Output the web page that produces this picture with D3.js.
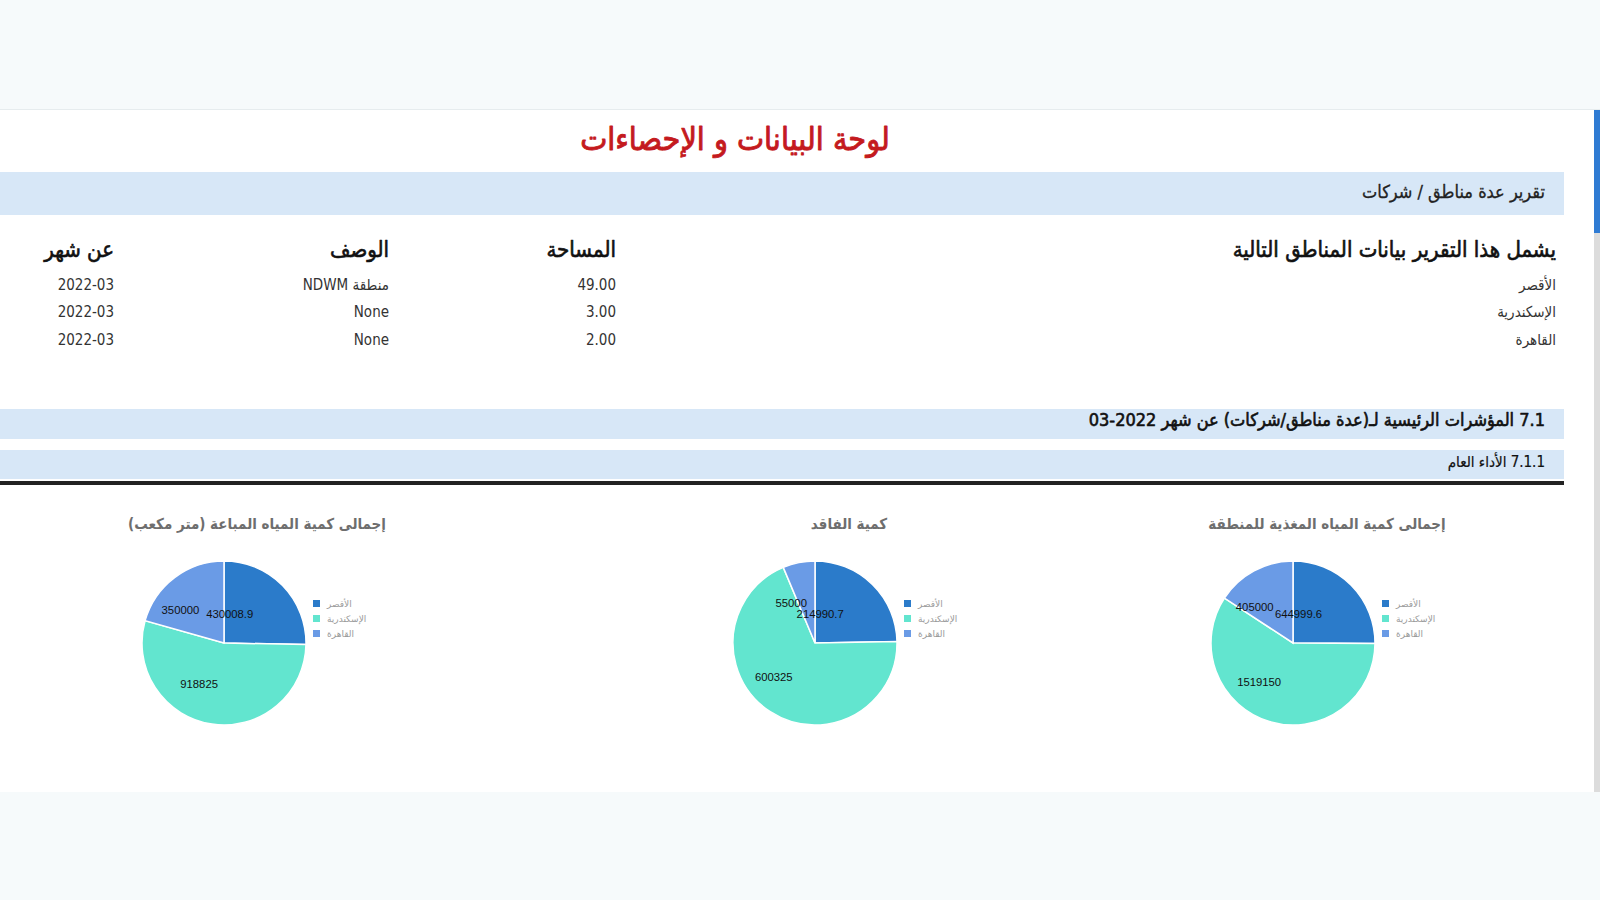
<!DOCTYPE html>
<html>
<head>
<meta charset="utf-8">
<script src="https://cdn.jsdelivr.net/npm/d3@7"></script>
<style>
  html, body { margin: 0; padding: 0; background: #f6fafb; overflow: hidden; }
  svg { display: block; }
</style>
</head>
<body>
<script>
var W = 1600, H = 900;

// table data
var regions = ["الأقصر", "الإسكندرية", "القاهرة"];
var areas = ["49.00", "3.00", "2.00"];
var descriptions = ["منطقة NDWM", "None", "None"];
var months = ["2022-03", "2022-03", "2022-03"];
var tableHeaders = ["يشمل هذا التقرير بيانات المناطق التالية", "المساحة", "الوصف", "عن شهر"];

// pie data (right to left on the page)
var chartTitles = ["إجمالى كمية المياه المغذية للمنطقة", "كمية الفاقد", "إجمالى كمية المياه المباعة (متر مكعب)"];
var fedWater = [644999.6, 1519150, 405000];
var lostWater = [214990.7, 600325, 55000];
var soldWater = [430008.9, 918825, 350000];
var colors = ["#2b7bca", "#62e5cf", "#6a9be6"];

var arabicFont = "'DejaVu Sans Condensed', 'DejaVu Sans', sans-serif";

var svg = d3.select("body").append("svg").attr("width", W).attr("height", H);

//page background + white panel
svg.append("rect").attr("width", W).attr("height", H).attr("fill", "#f6fafb");
svg.append("rect").attr("x", 0).attr("y", 109).attr("width", 1594).attr("height", 683).attr("fill", "#ffffff");
svg.append("line").attr("x1", 0).attr("x2", 1600).attr("y1", 109.5).attr("y2", 109.5).attr("stroke", "#e6ecee");

//scrollbar
svg.append("rect").attr("x", 1594).attr("y", 110).attr("width", 6).attr("height", 682).attr("fill", "#dcdcdc");
svg.append("rect").attr("x", 1594).attr("y", 110).attr("width", 6).attr("height", 123).attr("fill", "#2f7bd3");

function rtlText(x, y, txt, size, opts) {
  opts = opts || {};
  var t = svg.append("text")
    .attr("x", x).attr("y", y)
    .attr("direction", "rtl")
    .attr("text-anchor", opts.anchor || "start")
    .attr("dominant-baseline", "middle")
    .attr("font-family", opts.font || arabicFont)
    .attr("font-size", size + "px")
    .attr("font-weight", opts.weight || "normal")
    .attr("fill", opts.color || "#222")
    .text(txt);
  if (opts.thick) {
    t.attr("stroke", opts.color || "#222").attr("stroke-width", opts.thick).attr("stroke-linejoin", "round");
  }
  return t;
}

//title
rtlText(735, 141, "لوحة البيانات و الإحصاءات", 32, { anchor: "middle", color: "#c41a1e", thick: 0.9 });

//report bar
svg.append("rect").attr("x", 0).attr("y", 172).attr("width", 1564).attr("height", 43).attr("fill", "#d7e7f7");
rtlText(1545, 193, "تقرير عدة مناطق / شركات", 18, { color: "#222", thick: 0.3 });

//table
var colX = [1556, 616, 389, 114];
tableHeaders.forEach(function (t, i) {
  rtlText(colX[i], 251, t, 22, { color: "#111", thick: 0.6 });
});
var rowY = [285, 312, 340];
var columns = [regions, areas, descriptions, months];
columns.forEach(function (col, ci) {
  col.forEach(function (v, ri) {
    rtlText(colX[ci], rowY[ri], v, 15, { color: "#333" });
  });
});

//section bars
svg.append("rect").attr("x", 0).attr("y", 409).attr("width", 1564).attr("height", 30).attr("fill", "#d7e7f7");
rtlText(1545, 421, "7.1 المؤشرات الرئيسية لـ(عدة مناطق/شركات) عن شهر 2022-03", 18, { color: "#111", thick: 0.6 });
svg.append("rect").attr("x", 0).attr("y", 450).attr("width", 1564).attr("height", 29).attr("fill", "#d7e7f7");
rtlText(1545, 462, "7.1.1 الأداء العام", 15, { color: "#111", thick: 0.2 });
svg.append("rect").attr("x", 0).attr("y", 481).attr("width", 1564).attr("height", 4).attr("fill", "#222");

//pies
var pieData = [fedWater, lostWater, soldWater];
var pieCx = [1293, 815, 224];
var titleCx = [1327, 849, 257];
var pieCy = 643, r = 82;

var pie = d3.pie().sort(null).value(function (d) { return d; });
var arc = d3.arc().innerRadius(0).outerRadius(r);
var labelArc = d3.arc().innerRadius(r * 0.5).outerRadius(r * 0.5);

pieData.forEach(function (vals, k) {
  rtlText(titleCx[k], 524, chartTitles[k], 15, {
    anchor: "middle", weight: "bold", color: "#6e6e6e"
  });

  var g = svg.append("g").attr("transform", "translate(" + pieCx[k] + "," + pieCy + ")");
  var arcs = pie(vals);

  g.selectAll("path")
    .data(arcs)
    .enter()
    .append("path")
    .attr("d", arc)
    .attr("fill", function (d, i) { return colors[i]; })
    .attr("stroke", "#fff")
    .attr("stroke-width", 1.5);

  g.selectAll("text.lbl")
    .data(arcs)
    .enter()
    .append("text")
    .attr("class", "lbl")
    .attr("x", function (d) { return labelArc.centroid(d)[0]; })
    .attr("y", function (d) { return labelArc.centroid(d)[1] + 4; })
    .attr("text-anchor", "end")
    .attr("font-family", "'Liberation Sans', Arial, sans-serif")
    .attr("font-size", "11.3px")
    .attr("fill", "#111")
    .text(function (d) { return String(d.value); });

  //legend
  var lg = g.append("g").attr("transform", "translate(" + (r + 7) + ",-43)");
  regions.forEach(function (name, i) {
    lg.append("rect").attr("x", 0).attr("y", i * 15).attr("width", 7).attr("height", 7).attr("fill", colors[i]);
    lg.append("text")
      .attr("x", 14).attr("y", i * 15 + 4)
      .attr("dominant-baseline", "middle")
      .attr("font-family", "'DejaVu Sans', sans-serif")
      .attr("font-size", "9px")
      .attr("fill", "#9a9a9a")
      .text(name);
  });
});
</script>
</body>
</html>
